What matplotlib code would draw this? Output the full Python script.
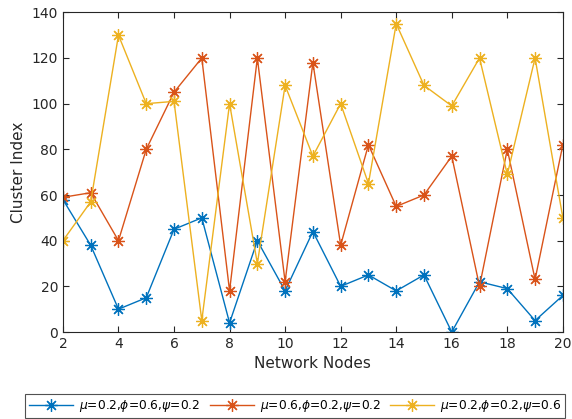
import matplotlib
matplotlib.use("Agg")
import matplotlib.pyplot as plt

nodes = list(range(2, 21))
series_a = [58, 38, 10, 15, 45, 50, 4, 40, 18, 44, 20, 25, 18, 25, 0, 22, 19, 5, 16]
series_b = [59, 61, 40, 80, 105, 120, 18, 120, 22, 118, 38, 82, 55, 60, 77, 20, 80, 23, 82]
series_c = [40, 57, 130, 100, 101, 5, 100, 30, 108, 77, 100, 65, 135, 108, 99, 120, 69, 120, 50]
labels = [
    r"$\mu$=0.2,$\phi$=0.6,$\psi$=0.2",
    r"$\mu$=0.6,$\phi$=0.2,$\psi$=0.2",
    r"$\mu$=0.2,$\phi$=0.2,$\psi$=0.6",
]
colors = ["#0072BD", "#D95319", "#EDB120"]

plt.rcParams["font.family"] = ["DejaVu Sans"]
plt.rcParams["mathtext.fontset"] = "dejavusans"

fig = plt.figure(figsize=(5.72, 4.19), dpi=100)
ax = fig.add_axes([0.110, 0.2076, 0.874, 0.763])

# MATLAB-style asterisk: 8 spokes
for vals, lab, col in zip([series_a, series_b, series_c], labels, colors):
    ax.plot(nodes, vals, color=col, marker=(8, 2, 0), markersize=9, markeredgewidth=0.9,
            linewidth=1.0, label=lab)

ax.set_xlim(2, 20)
ax.set_ylim(0, 140)
ax.set_xticks(range(2, 21, 2))
ax.set_yticks(range(0, 141, 20))
ax.tick_params(direction="in", top=True, right=True, labelsize=10, colors="#262626", length=4)
for sp in ax.spines.values():
    sp.set_color("#262626")
    sp.set_linewidth(0.8)
ax.set_xlabel("Network Nodes", fontsize=11, color="#262626")
ax.set_ylabel("Cluster Index", fontsize=11, color="#262626")

leg = fig.legend(loc="center", bbox_to_anchor=(0.516, 0.031), ncol=3, fontsize=8.8,
                 frameon=True, fancybox=False, edgecolor="#262626", handlelength=3.6,
                 columnspacing=0.8, borderpad=0.3, handletextpad=0.5, borderaxespad=0)
leg.get_frame().set_linewidth(0.8)

fig.savefig("out.png", dpi=100)
